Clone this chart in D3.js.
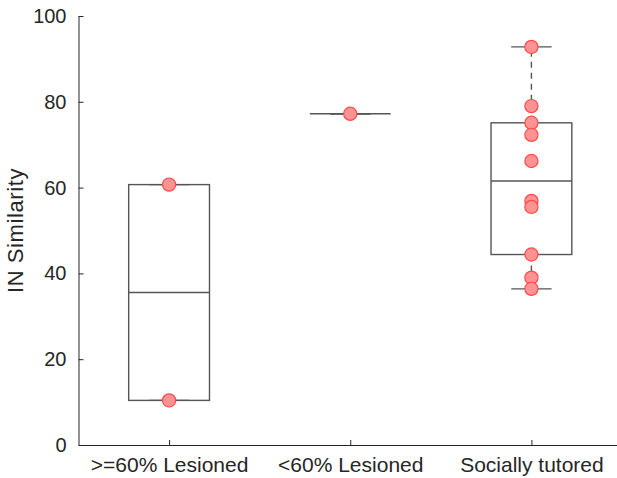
<!DOCTYPE html>
<html>
<head>
<meta charset="utf-8">
<script src="https://cdn.jsdelivr.net/npm/d3@7"></script>
<style>
  html, body { margin: 0; padding: 0; background: #fff; }
  svg { display: block; font-family: "Liberation Sans", Arial, sans-serif; }
</style>
</head>
<body>
<svg id="chart" width="617" height="478"></svg>
<script>
// Groups and per-bird similarity scores
const groups = [">=60% Lesioned", "<60% Lesioned", "Socially tutored"];
const lesionedHigh = [60.7, 10.4];
const lesionedLow = [77.2];
const tutored = [92.8, 79.0, 75.1, 72.3, 66.2, 56.9, 55.5, 44.4, 39.0, 36.4];
const yTicks = [0, 20, 40, 60, 80, 100];
const yLabel = "IN Similarity";

const series = [lesionedHigh, lesionedLow, tutored];

const svg = d3.select("#chart");
const axisColor = "#262626";
const boxColor = "#555555";

const x = d3.scaleLinear().domain([0.5, 3.5]).range([78.5, 622]);
const y = d3.scaleLinear().domain([0, 100]).range([445, 16]);

// Percentile matching the (i - 0.5)/n convention used for box plots
function prctile(sorted, p) {
  const n = sorted.length;
  const pos = p * n + 0.5; // 1-based
  if (pos <= 1) return sorted[0];
  if (pos >= n) return sorted[n - 1];
  const lo = Math.floor(pos), frac = pos - lo;
  return sorted[lo - 1] + frac * (sorted[lo] - sorted[lo - 1]);
}

function boxStats(vals) {
  const s = vals.slice().sort((a, b) => a - b);
  const q1 = prctile(s, 0.25), med = prctile(s, 0.5), q3 = prctile(s, 0.75);
  const iqr = q3 - q1;
  const hiLim = q3 + 1.5 * iqr, loLim = q1 - 1.5 * iqr;
  const whiHi = d3.max(s.filter(v => v <= hiLim));
  const whiLo = d3.min(s.filter(v => v >= loLim));
  return { q1, med, q3, whiHi, whiLo };
}

const boxW = 0.446;   // box width in category units
const capW = boxW / 2;

// Boxes and whiskers
series.forEach((vals, i) => {
  const c = i + 1;
  const st = boxStats(vals);
  const g = svg.append("g").attr("fill", "none").attr("stroke", boxColor).attr("stroke-width", 1.4);

  // whiskers (dashed)
  g.append("line").attr("x1", x(c)).attr("x2", x(c)).attr("y1", y(st.q3)).attr("y2", y(st.whiHi))
    .attr("stroke-dasharray", "6,5");
  g.append("line").attr("x1", x(c)).attr("x2", x(c)).attr("y1", y(st.q1)).attr("y2", y(st.whiLo))
    .attr("stroke-dasharray", "6,5");
  // caps
  [st.whiHi, st.whiLo].forEach(v => {
    g.append("line").attr("x1", x(c - capW / 2)).attr("x2", x(c + capW / 2))
      .attr("y1", y(v)).attr("y2", y(v));
  });
  // box
  g.append("rect").attr("x", x(c - boxW / 2)).attr("width", x(c + boxW / 2) - x(c - boxW / 2))
    .attr("y", y(st.q3)).attr("height", Math.max(0, y(st.q1) - y(st.q3)));
  // median
  g.append("line").attr("x1", x(c - boxW / 2)).attr("x2", x(c + boxW / 2))
    .attr("y1", y(st.med)).attr("y2", y(st.med));
});

// Individual points
series.forEach((vals, i) => {
  svg.append("g").selectAll("circle").data(vals).join("circle")
    .attr("cx", x(i + 1)).attr("cy", d => y(d)).attr("r", 6.6)
    .attr("fill", "rgb(255,146,146)")
    .attr("stroke", "rgb(255,75,75)").attr("stroke-width", 1.2);
});

// Y axis
const yAxis = d3.axisLeft(y).tickValues(yTicks).tickSizeInner(-5).tickSizeOuter(0).tickPadding(12);
const gy = svg.append("g").attr("transform", `translate(${x(0.5)},0)`).call(yAxis);
gy.select(".domain").attr("stroke", axisColor);
gy.selectAll(".tick line").attr("stroke", axisColor);
gy.selectAll(".tick text").attr("fill", axisColor).attr("font-size", 20)
  .attr("font-family", "Liberation Sans, Arial, sans-serif");

// X axis
const xAxis = d3.axisBottom(x).tickValues([1, 2, 3]).tickFormat((d, i) => groups[i])
  .tickSizeInner(-5).tickSizeOuter(0).tickPadding(12);
const gx = svg.append("g").attr("transform", `translate(0,${y(0)})`).call(xAxis);
gx.select(".domain").attr("stroke", axisColor);
gx.selectAll(".tick line").attr("stroke", axisColor);
gx.selectAll(".tick text").attr("fill", axisColor).attr("font-size", 21)
  .attr("font-family", "Liberation Sans, Arial, sans-serif");

// Y label
svg.append("text")
  .attr("transform", `translate(23,${(y(0) + y(100)) / 2}) rotate(-90)`)
  .attr("text-anchor", "middle")
  .attr("fill", axisColor).attr("font-size", 22).attr("letter-spacing", 0.6)
  .text(yLabel);
</script>
</body>
</html>
